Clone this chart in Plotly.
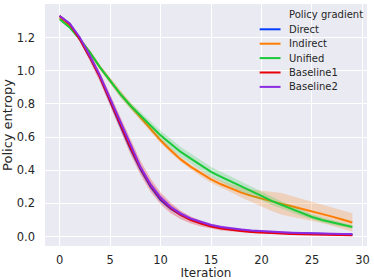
import plotly.graph_objects as go

iterations = list(range(30))

series_names = ["Direct", "Indirect", "Unified", "Baseline1", "Baseline2"]
series_colors = ["#023eff", "#ff7c00", "#1ac938", "#e8000b", "#8b2be2"]

direct = [1.33, 1.28, 1.19, 1.08, 0.96, 0.81, 0.67, 0.53, 0.405, 0.30, 0.22, 0.168, 0.13, 0.102, 0.081,
          0.065, 0.053, 0.044, 0.037, 0.032, 0.028, 0.025, 0.022, 0.02, 0.018, 0.016, 0.015, 0.014, 0.013, 0.012]
indirect = [1.32, 1.27, 1.19, 1.11, 1.02, 0.94, 0.86, 0.79, 0.72, 0.65, 0.58, 0.52, 0.465, 0.42, 0.38,
            0.345, 0.315, 0.29, 0.265, 0.245, 0.228, 0.212, 0.197, 0.183, 0.168, 0.152, 0.137, 0.12, 0.103, 0.085]
unified = [1.31, 1.26, 1.19, 1.11, 1.02, 0.94, 0.86, 0.79, 0.73, 0.67, 0.61, 0.56, 0.51, 0.47, 0.43,
           0.39, 0.36, 0.33, 0.30, 0.27, 0.245, 0.215, 0.19, 0.165, 0.14, 0.118, 0.10, 0.085, 0.07, 0.058]
baseline1 = [1.33, 1.28, 1.19, 1.08, 0.96, 0.82, 0.68, 0.54, 0.415, 0.31, 0.23, 0.172, 0.13, 0.1, 0.078,
             0.061, 0.049, 0.04, 0.033, 0.028, 0.024, 0.021, 0.018, 0.016, 0.014, 0.012, 0.011, 0.01, 0.009, 0.008]
baseline2 = [1.33, 1.285, 1.2, 1.09, 0.97, 0.83, 0.69, 0.55, 0.42, 0.315, 0.235, 0.178, 0.138, 0.108, 0.087,
             0.07, 0.058, 0.049, 0.042, 0.036, 0.032, 0.028, 0.025, 0.023, 0.021, 0.019, 0.017, 0.016, 0.015, 0.014]

direct_spread = [0.005] * 4 + [0.008] * 10 + [0.006] * 16
indirect_spread = [0.008, 0.008, 0.01, 0.012, 0.015, 0.018, 0.02, 0.02, 0.02, 0.02, 0.018, 0.016, 0.015, 0.015, 0.018,
                   0.02, 0.022, 0.025, 0.03, 0.038, 0.048, 0.058, 0.065, 0.062, 0.06, 0.058, 0.056, 0.055, 0.055, 0.055]
unified_spread = [0.008, 0.008, 0.01, 0.01, 0.012, 0.015, 0.018, 0.02, 0.022, 0.026, 0.028, 0.03, 0.03, 0.03, 0.03,
                  0.03, 0.03, 0.03, 0.03, 0.028, 0.026, 0.024, 0.022, 0.02, 0.018, 0.016, 0.015, 0.014, 0.012, 0.01]
baseline1_spread = [0.005, 0.008, 0.014, 0.024, 0.03, 0.036, 0.04, 0.042, 0.042, 0.04, 0.036, 0.031, 0.026, 0.021, 0.017,
                    0.014, 0.012, 0.01, 0.009, 0.008, 0.007, 0.006, 0.006, 0.005, 0.005, 0.005, 0.004, 0.004, 0.004, 0.004]
baseline2_spread = [0.005, 0.006, 0.008, 0.01, 0.012, 0.014, 0.016, 0.016, 0.016, 0.016, 0.015, 0.014, 0.012, 0.01, 0.009,
                    0.008, 0.007, 0.006, 0.006, 0.005, 0.005, 0.005, 0.005, 0.004, 0.004, 0.004, 0.004, 0.004, 0.004, 0.004]

x_ticks = [0, 5, 10, 15, 20, 25, 30]
y_ticks = [0.0, 0.2, 0.4, 0.6, 0.8, 1.0, 1.2, 1.4]

all_values = [direct, indirect, unified, baseline1, baseline2]
all_spreads = [direct_spread, indirect_spread, unified_spread, baseline1_spread, baseline2_spread]
band_alpha = [0.22, 0.22, 0.22, 0.26, 0.22]


def rgba(hex_color, a):
    h = hex_color.lstrip("#")
    r, g, b = int(h[0:2], 16), int(h[2:4], 16), int(h[4:6], 16)
    return f"rgba({r},{g},{b},{a})"


fig = go.Figure()
for name, color, vals, spr, alpha in zip(series_names, series_colors, all_values, all_spreads, band_alpha):
    upper = [v + s for v, s in zip(vals, spr)]
    lower = [max(v - s, 0) for v, s in zip(vals, spr)]
    fig.add_trace(go.Scatter(
        x=iterations + iterations[::-1], y=upper + lower[::-1],
        fill="toself", fillcolor=rgba(color, alpha), line=dict(width=0),
        hoverinfo="skip", showlegend=False, mode="lines"))
    fig.add_trace(go.Scatter(x=iterations, y=vals, mode="lines", name=name,
                             line=dict(color=color, width=2), showlegend=False))

FONT = "DejaVu Sans"
TXT = "#262626"

# manual legend (layout decoration)
L, R, T, B = 45, 369, 4, 246
W, H = R - L, B - T


def px(x):
    return (x - L) / W


def py(y):
    return (B - y) / H


annotations = [dict(text="Policy gradient", x=px(288), y=py(15), xref="paper", yref="paper",
                    xanchor="left", yanchor="middle", showarrow=False,
                    font=dict(family=FONT, size=10, color=TXT))]
shapes = []
for i, (name, color) in enumerate(zip(series_names, series_colors)):
    yy = 29.3 + i * 14.4
    annotations.append(dict(text=name, x=px(288), y=py(yy), xref="paper", yref="paper",
                            xanchor="left", yanchor="middle", showarrow=False,
                            font=dict(family=FONT, size=10, color=TXT)))
    shapes.append(dict(type="line", xref="paper", yref="paper", x0=px(261), x1=px(282),
                       y0=py(yy), y1=py(yy), line=dict(color=color, width=2)))

fig.update_layout(
    width=374, height=280,
    margin=dict(l=L, r=374 - R, t=T, b=280 - B),
    paper_bgcolor="white", plot_bgcolor="#EAEAF2",
    font=dict(family=FONT, size=11.5, color=TXT),
    showlegend=False,
    annotations=annotations, shapes=shapes,
    xaxis=dict(range=[-1.45, 30.45], tickvals=x_ticks, showgrid=True, gridcolor="white", gridwidth=1,
               zeroline=False, showline=False, ticks="", ticklabelstandoff=5,
               title=dict(text="Iteration", font=dict(size=12), standoff=0),
               tickfont=dict(size=11.5)),
    yaxis=dict(range=[-0.057, 1.402], tickvals=y_ticks, tickformat=".1f", showgrid=True,
               gridcolor="white", gridwidth=1, zeroline=False, showline=False, ticks="",
               ticklabelstandoff=9,
               title=dict(text="Policy entropy", font=dict(size=13), standoff=2),
               tickfont=dict(size=11.5)),
)

fig.write_html("out.html", config={"displayModeBar": False},
               post_script="document.body.style.margin='0';document.body.style.padding='0';")
